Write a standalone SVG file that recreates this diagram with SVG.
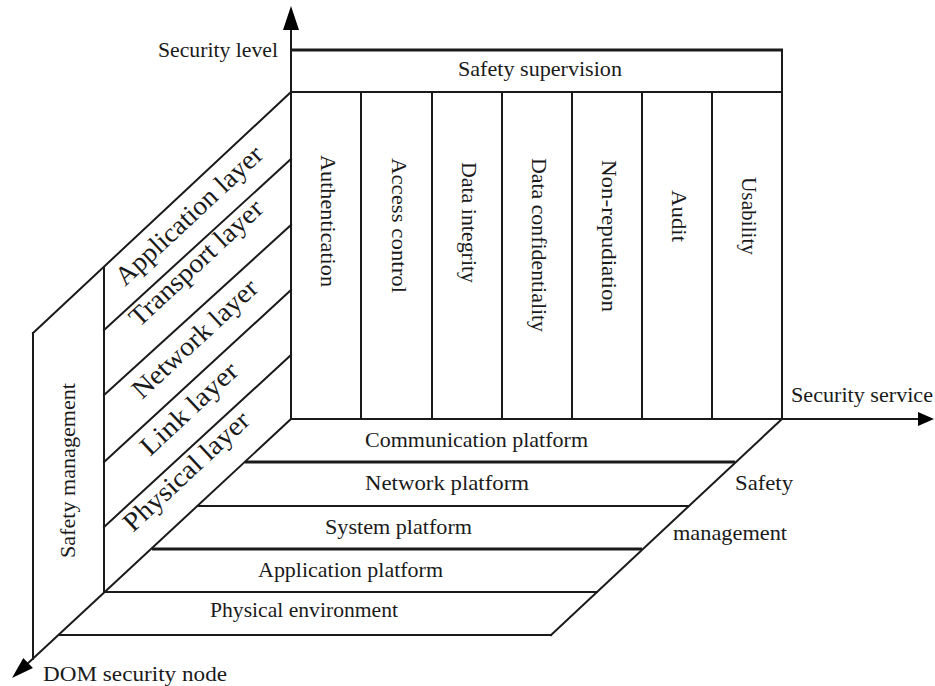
<svg xmlns="http://www.w3.org/2000/svg" width="935" height="686" viewBox="0 0 935 686">
<style>
  .ln { stroke: #1a1a1a; stroke-width: 2; fill: none; stroke-linecap: square; }
  .thick { stroke: #1a1a1a; stroke-width: 3; fill: none; }
  .head { fill: #000; stroke: none; }
  text { font-family: "Liberation Serif", "Times New Roman", serif; font-size: 22px; fill: #1a1a1a; }
  .big { font-size: 27px; }
</style>
<rect width="935" height="686" fill="#fff"/>

<g id="axes">
  <line class="ln" x1="291" y1="24" x2="291" y2="419"/>
  <polygon class="head" points="291,6 283,30 299,30"/>
  <line class="ln" x1="291" y1="419" x2="920" y2="419"/>
  <polygon class="head" points="934,419 918,412 918,426"/>
  <line class="ln" x1="291" y1="419" x2="26" y2="665"/>
  <polygon class="head" points="12,678 23.3,657.9 32.9,668.1"/>
  <text x="278" y="57" text-anchor="end" textLength="120" lengthAdjust="spacingAndGlyphs">Security level</text>
  <text x="791" y="402" textLength="142" lengthAdjust="spacingAndGlyphs">Security service</text>
  <text x="43" y="681" textLength="184" lengthAdjust="spacingAndGlyphs">DOM security node</text>
</g>

<g id="safety-supervision">
  <line class="thick" x1="291" y1="50" x2="783" y2="50"/>
  <line class="ln" x1="291" y1="92" x2="782" y2="92"/>
  <line class="ln" x1="782" y1="50" x2="782" y2="419"/>
  <text x="540" y="76" text-anchor="middle" textLength="164" lengthAdjust="spacingAndGlyphs">Safety supervision</text>
</g>

<g id="security-services">
  <line class="ln" x1="361" y1="92" x2="361" y2="419"/>
  <line class="ln" x1="432" y1="92" x2="432" y2="419"/>
  <line class="ln" x1="502" y1="92" x2="502" y2="419"/>
  <line class="ln" x1="572" y1="92" x2="572" y2="419"/>
  <line class="ln" x1="642" y1="92" x2="642" y2="419"/>
  <line class="ln" x1="712" y1="92" x2="712" y2="419"/>
  <text transform="translate(321,155) rotate(90)" textLength="132" lengthAdjust="spacingAndGlyphs">Authentication</text>
  <text transform="translate(392,158) rotate(90)" textLength="135" lengthAdjust="spacingAndGlyphs">Access control</text>
  <text transform="translate(462,162) rotate(90)" textLength="121" lengthAdjust="spacingAndGlyphs">Data integrity</text>
  <text transform="translate(532,158) rotate(90)" textLength="174" lengthAdjust="spacingAndGlyphs">Data confidentiality</text>
  <text transform="translate(602,160) rotate(90)" textLength="152" lengthAdjust="spacingAndGlyphs">Non-repudiation</text>
  <text transform="translate(672,190) rotate(90)" textLength="52" lengthAdjust="spacingAndGlyphs">Audit</text>
  <text transform="translate(742,177) rotate(90)" textLength="78" lengthAdjust="spacingAndGlyphs">Usability</text>
</g>

<g id="protocol-layers">
  <line class="ln" x1="291" y1="92" x2="33" y2="333"/>
  <line class="ln" x1="104" y1="267" x2="104" y2="592"/>
  <line class="ln" x1="291" y1="159" x2="104" y2="330"/>
  <line class="ln" x1="291" y1="225" x2="104" y2="395"/>
  <line class="ln" x1="291" y1="290" x2="104" y2="462"/>
  <line class="ln" x1="291" y1="355" x2="104" y2="527"/>
  <text class="big" transform="translate(125,287) rotate(-43)" textLength="191" lengthAdjust="spacingAndGlyphs">Application layer</text>
  <text class="big" transform="translate(139,328) rotate(-43)" textLength="172" lengthAdjust="spacingAndGlyphs">Transport layer</text>
  <text class="big" transform="translate(142,400) rotate(-43)" textLength="161" lengthAdjust="spacingAndGlyphs">Network layer</text>
  <text class="big" transform="translate(150,457) rotate(-43)" textLength="123" lengthAdjust="spacingAndGlyphs">Link layer</text>
  <text class="big" transform="translate(133,533) rotate(-43)" textLength="162" lengthAdjust="spacingAndGlyphs">Physical layer</text>
</g>

<g id="safety-management-left">
  <line class="ln" x1="33" y1="333" x2="33" y2="659"/>
  <text transform="translate(75,558) rotate(-90)" textLength="175" lengthAdjust="spacingAndGlyphs">Safety management</text>
</g>

<g id="platforms">
  <line class="ln" x1="782" y1="419" x2="551" y2="635"/>
  <line class="thick" x1="245" y1="462" x2="735" y2="462"/>
  <line class="ln" x1="198" y1="506" x2="688" y2="506"/>
  <line class="thick" x1="152" y1="549" x2="642" y2="549"/>
  <line class="ln" x1="105" y1="592" x2="597" y2="592"/>
  <line class="ln" x1="60" y1="635" x2="551" y2="635"/>
  <text x="365" y="447" textLength="223" lengthAdjust="spacingAndGlyphs">Communication platform</text>
  <text x="365" y="490" textLength="164" lengthAdjust="spacingAndGlyphs">Network platform</text>
  <text x="325" y="534" textLength="147" lengthAdjust="spacingAndGlyphs">System platform</text>
  <text x="258" y="577" textLength="185" lengthAdjust="spacingAndGlyphs">Application platform</text>
  <text x="210" y="617" textLength="188" lengthAdjust="spacingAndGlyphs">Physical environment</text>
</g>

<g id="safety-management-right">
  <text x="735" y="490" textLength="58" lengthAdjust="spacingAndGlyphs">Safety</text>
  <text x="673" y="540" textLength="114" lengthAdjust="spacingAndGlyphs">management</text>
</g>
</svg>
